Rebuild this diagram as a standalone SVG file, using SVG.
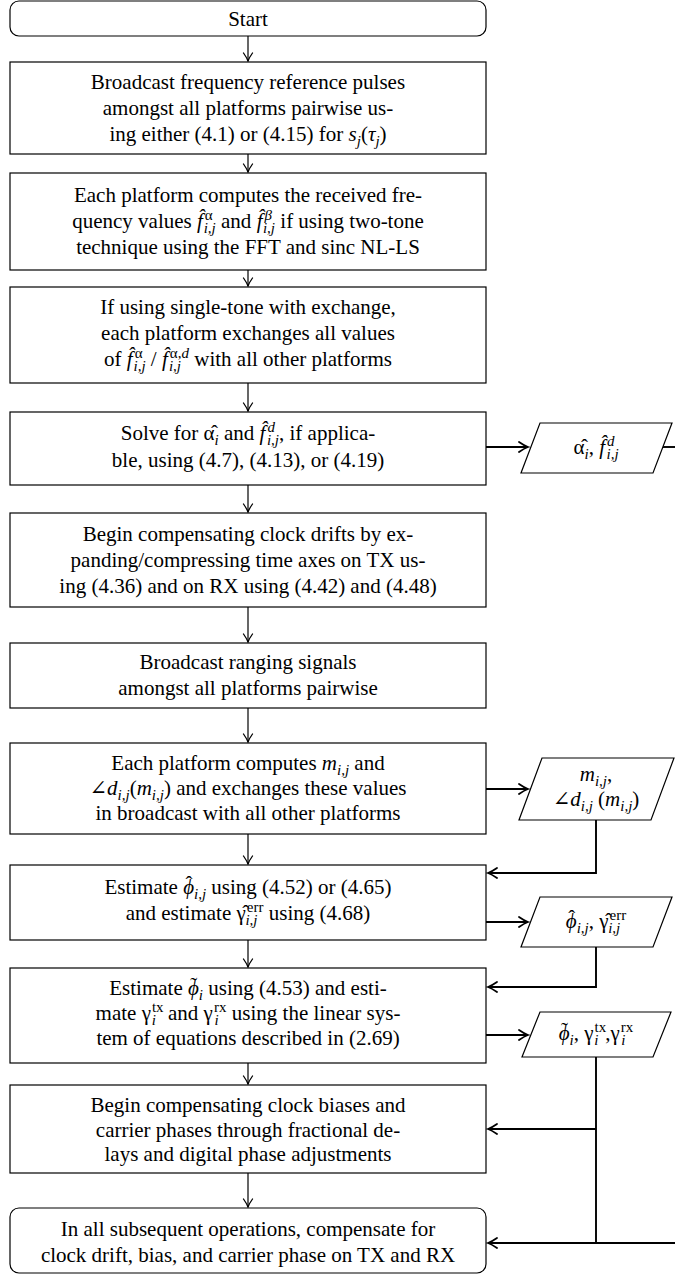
<svg xmlns="http://www.w3.org/2000/svg" width="675" height="1274" viewBox="0 0 675 1274">
<style>
.box{fill:#fff;stroke:#000;stroke-width:1.2}
.t{font-family:"Liberation Serif","Times New Roman","DejaVu Serif",serif;font-size:21px;fill:#000;text-anchor:middle}
.i{font-style:italic}
.s{font-size:15px}
.c{fill:none;stroke:#000;stroke-width:1.2}
.ct{fill:none;stroke:#000;stroke-width:1.9}
</style>
<defs>
<marker id="ah" viewBox="-10 -6 12 12" refX="0" refY="0" markerWidth="12" markerHeight="12" markerUnits="userSpaceOnUse" orient="auto"><path d="M-8,-4.5 Q-3,-1 0,0 Q-3,1 -8,4.5" fill="none" stroke="#000" stroke-width="1.3" stroke-linecap="round"/></marker>
<marker id="ahb" viewBox="-12 -7 14 14" refX="0" refY="0" markerWidth="14" markerHeight="14" markerUnits="userSpaceOnUse" orient="auto"><path d="M-9,-5 Q-3.5,-1.2 0,0 Q-3.5,1.2 -9,5" fill="none" stroke="#000" stroke-width="1.8" stroke-linecap="round"/></marker>
</defs>

<g id="connectors">
<path class="c" d="M248,36V61" marker-end="url(#ah)"/>
<path class="c" d="M248,154V172" marker-end="url(#ah)"/>
<path class="c" d="M248,270V286" marker-end="url(#ah)"/>
<path class="c" d="M248,383V411" marker-end="url(#ah)"/>
<path class="c" d="M248,485V512" marker-end="url(#ah)"/>
<path class="c" d="M248,607V642" marker-end="url(#ah)"/>
<path class="c" d="M248,708V742" marker-end="url(#ah)"/>
<path class="c" d="M248,834V864" marker-end="url(#ah)"/>
<path class="c" d="M248,940V967" marker-end="url(#ah)"/>
<path class="c" d="M248,1063V1084" marker-end="url(#ah)"/>
<path class="c" d="M248,1173V1207" marker-end="url(#ah)"/>
<path class="ct" d="M486,447H528" marker-end="url(#ahb)"/>
<path class="ct" d="M662,447H675"/>
<path class="ct" d="M486,789H528" marker-end="url(#ahb)"/>
<path class="ct" d="M596,820V873H488" marker-end="url(#ahb)"/>
<path class="ct" d="M486,922H528" marker-end="url(#ahb)"/>
<path class="ct" d="M596,947V987H488" marker-end="url(#ahb)"/>
<path class="ct" d="M486,1035H528" marker-end="url(#ahb)"/>
<path class="ct" d="M596,1057V1243"/>
<path class="ct" d="M596,1129H488" marker-end="url(#ahb)"/>
<path class="ct" d="M675,1243H488" marker-end="url(#ahb)"/>
</g>

<g id="start">
<rect class="box" x="10" y="1" width="476" height="35" rx="9"/>
<text class="t" x="248" y="26">Start</text>
</g>

<g id="b1">
<rect class="box" x="10" y="62" width="476" height="92"/>
<text class="t" x="248" y="89">Broadcast frequency reference pulses</text>
<text class="t" x="248" y="115">amongst all platforms pairwise us-</text>
<text class="t" x="248" y="141">ing either (4.1) or (4.15) for <tspan class="i">s</tspan><tspan class="s i" dy="5">j</tspan><tspan dy="-5">(</tspan><tspan class="i">τ</tspan><tspan class="s i" dy="5">j</tspan><tspan dy="-5">)</tspan></text>
</g>

<g id="b2">
<rect class="box" x="10" y="173" width="476" height="97"/>
<text class="t" x="248" y="202">Each platform computes the received fre-</text>
<text class="t" x="248" y="228">quency values <tspan class="i">f̂</tspan><tspan class="s" dx="2" dy="-8">α</tspan><tspan class="s i" dx="-9" dy="13">i,j</tspan><tspan dy="-5"> and </tspan><tspan class="i">f̂</tspan><tspan class="s i" dx="2" dy="-8">β</tspan><tspan class="s i" dx="-9" dy="13">i,j</tspan><tspan dy="-5"> if using two-tone</tspan></text>
<text class="t" x="248" y="254">technique using the FFT and sinc NL-LS</text>
</g>

<g id="b3">
<rect class="box" x="10" y="287" width="476" height="96"/>
<text class="t" x="248" y="314">If using single-tone with exchange,</text>
<text class="t" x="248" y="340">each platform exchanges all values</text>
<text class="t" x="248" y="366">of <tspan class="i">f̂</tspan><tspan class="s" dx="2" dy="-8">α</tspan><tspan class="s i" dx="-9" dy="13">i,j</tspan><tspan dy="-5"> / </tspan><tspan class="i">f̂</tspan><tspan class="s" dx="2" dy="-8">α,<tspan class="i">d</tspan></tspan><tspan class="s i" dx="-20" dy="13">i,j</tspan><tspan dx="8" dy="-5"> with all other platforms</tspan></text>
</g>

<g id="b4">
<rect class="box" x="10" y="412" width="476" height="73"/>
<text class="t" x="248" y="440">Solve for α̂<tspan class="s i" dy="5">i</tspan><tspan dy="-5"> and </tspan><tspan class="i">f̂</tspan><tspan class="s i" dx="2" dy="-8">d</tspan><tspan class="s i" dx="-8" dy="13">i,j</tspan><tspan dy="-5">, if applica-</tspan></text>
<text class="t" x="248" y="467">ble, using (4.7), (4.13), or (4.19)</text>
</g>

<g id="p1">
<polygon class="box" points="540,423 672,423 653,473 521,473"/>
<text class="t" x="596" y="454">α̂<tspan class="s i" dy="5">i</tspan><tspan dy="-5">, </tspan><tspan class="i">f̂</tspan><tspan class="s i" dx="2" dy="-8">d</tspan><tspan class="s i" dx="-8" dy="13">i,j</tspan></text>
</g>

<g id="b5">
<rect class="box" x="10" y="513" width="476" height="94"/>
<text class="t" x="248" y="541">Begin compensating clock drifts by ex-</text>
<text class="t" x="248" y="567">panding/compressing time axes on TX us-</text>
<text class="t" x="248" y="593">ing (4.36) and on RX using (4.42) and (4.48)</text>
</g>

<g id="b6">
<rect class="box" x="10" y="643" width="476" height="65"/>
<text class="t" x="248" y="669">Broadcast ranging signals</text>
<text class="t" x="248" y="695">amongst all platforms pairwise</text>
</g>

<g id="b7">
<rect class="box" x="10" y="743" width="476" height="91"/>
<text class="t" x="248" y="770">Each platform computes <tspan class="i">m</tspan><tspan class="s i" dy="5">i,j</tspan><tspan dy="-5"> and</tspan></text>
<text class="t" x="248" y="795">∠<tspan class="i">d</tspan><tspan class="s i" dy="5">i,j</tspan><tspan dy="-5">(</tspan><tspan class="i">m</tspan><tspan class="s i" dy="5">i,j</tspan><tspan dy="-5">) and exchanges these values</tspan></text>
<text class="t" x="248" y="820">in broadcast with all other platforms</text>
</g>

<g id="p2">
<polygon class="box" points="542,758 674,758 651,820 519,820"/>
<text class="t" x="596" y="781"><tspan class="i">m</tspan><tspan class="s i" dy="5">i,j</tspan><tspan dy="-5">,</tspan></text>
<text class="t" x="596" y="806">∠<tspan class="i">d</tspan><tspan class="s i" dy="5">i,j</tspan><tspan dy="-5"> (</tspan><tspan class="i">m</tspan><tspan class="s i" dy="5">i,j</tspan><tspan dy="-5">)</tspan></text>
</g>

<g id="b8">
<rect class="box" x="10" y="865" width="476" height="75"/>
<text class="t" x="248" y="894">Estimate <tspan class="i">ϕ</tspan><tspan dx="-8.5" dy="-3">ˆ</tspan><tspan class="s i" dx="1.5" dy="8">i,j</tspan><tspan dy="-5"> using (4.52) or (4.65)</tspan></text>
<text class="t" x="248" y="920">and estimate γ̂<tspan class="s" dx="1" dy="-8">err</tspan><tspan class="s i" dx="-18" dy="13">i,j</tspan><tspan dx="6" dy="-5"> using (4.68)</tspan></text>
</g>

<g id="p3">
<polygon class="box" points="540,897 672,897 653,947 521,947"/>
<text class="t" x="596" y="928"><tspan class="i">ϕ</tspan><tspan dx="-8.5" dy="-3">ˆ</tspan><tspan class="s i" dx="1.5" dy="8">i,j</tspan><tspan dy="-5">, γ̂</tspan><tspan class="s" dx="1" dy="-8">err</tspan><tspan class="s i" dx="-18" dy="13">i,j</tspan></text>
</g>

<g id="b9">
<rect class="box" x="10" y="968" width="476" height="95"/>
<text class="t" x="248" y="995">Estimate <tspan class="i">ϕ</tspan><tspan dx="-8.5" dy="-3">˜</tspan><tspan class="s i" dx="1.5" dy="8">i</tspan><tspan dy="-5"> using (4.53) and esti-</tspan></text>
<text class="t" x="248" y="1020">mate γ<tspan class="s" dx="1" dy="-8">tx</tspan><tspan class="s i" dx="-12" dy="13">i</tspan><tspan dx="7" dy="-5"> and γ</tspan><tspan class="s" dx="1" dy="-8">rx</tspan><tspan class="s i" dx="-12" dy="13">i</tspan><tspan dx="8" dy="-5"> using the linear sys-</tspan></text>
<text class="t" x="248" y="1045">tem of equations described in (2.69)</text>
</g>

<g id="p4">
<polygon class="box" points="540,1012 671,1012 653,1057 522,1057"/>
<text class="t" x="596" y="1040"><tspan class="i">ϕ</tspan><tspan dx="-8.5" dy="-3">˜</tspan><tspan class="s i" dx="1.5" dy="8">i</tspan><tspan dy="-5">, γ</tspan><tspan class="s" dx="1" dy="-8">tx</tspan><tspan class="s i" dx="-12" dy="13">i</tspan><tspan dx="7" dy="-5">,γ</tspan><tspan class="s" dx="1" dy="-8">rx</tspan><tspan class="s i" dx="-12" dy="13">i</tspan></text>
</g>

<g id="b10">
<rect class="box" x="10" y="1085" width="476" height="88"/>
<text class="t" x="248" y="1112">Begin compensating clock biases and</text>
<text class="t" x="248" y="1137">carrier phases through fractional de-</text>
<text class="t" x="248" y="1161">lays and digital phase adjustments</text>
</g>

<g id="b11">
<rect class="box" x="10" y="1208" width="476" height="65" rx="9"/>
<text class="t" x="248" y="1236">In all subsequent operations, compensate for</text>
<text class="t" x="248" y="1262">clock drift, bias, and carrier phase on TX and RX</text>
</g>
</svg>
